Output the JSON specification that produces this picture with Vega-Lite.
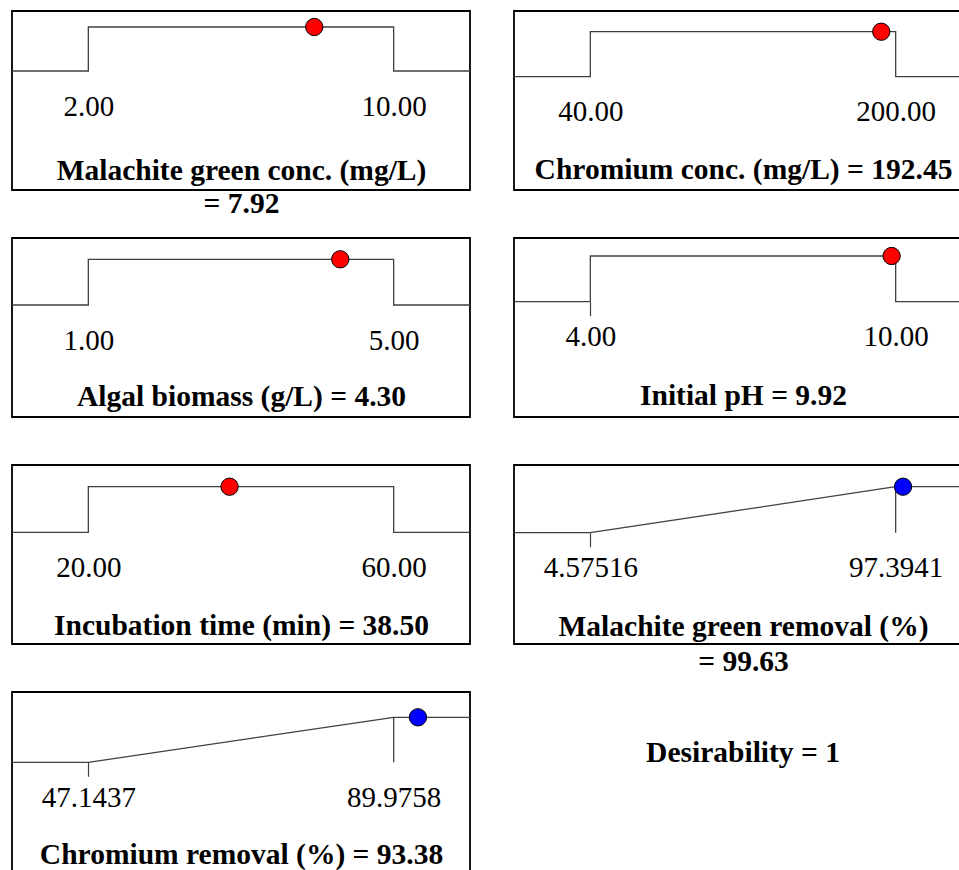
{
  "$schema": "https://vega.github.io/schema/vega-lite/v6.json",
  "padding": {"left": 8, "top": 10, "right": 0, "bottom": 0},
  "background": "white",
  "config": {
    "view": {"stroke": "black", "strokeWidth": 1.8},
    "axis": {
      "domain": false, "grid": false, "ticks": true, "tickSize": 14, "tickColor": "#404040", "tickWidth": 1.2,
      "labelFont": "Liberation Serif", "labelFontSize": 29, "labelColor": "black", "labelPadding": 7,
      "labelFlush": false, "labelOverlap": false, "labelBound": false,
      "titleFont": "Liberation Serif", "titleFontSize": 29.5, "titleFontWeight": "bold", "titleColor": "black", "titleLineHeight": 33
    }
  },
  "columns": 2,
  "spacing": {"row": 48, "column": 44},
  "bounds": "flush",
  "concat": [
    {
      "width": 458, "height": 179,
      "encoding": {
        "x": {"field": "x", "type": "quantitative", "scale": {"domain": [0, 12], "nice": false, "zero": false},
              "axis": {"values": [2, 10], "format": ".2f", "offset": -119, "tickOpacity": 0, "titlePadding": 35,
                       "title": ["Malachite green conc. (mg/L)", "= 7.92"]}},
        "y": {"field": "d", "type": "quantitative", "scale": {"domain": [-2.7045, 1.3636], "nice": false, "zero": false}, "axis": null}
      },
      "layer": [
        {"data": {"values": [{"i": 1, "x": 0, "d": 0}, {"i": 2, "x": 2, "d": 0}, {"i": 3, "x": 2, "d": 1}, {"i": 4, "x": 10, "d": 1}, {"i": 5, "x": 10, "d": 0}, {"i": 6, "x": 12, "d": 0}]},
         "mark": {"type": "line", "color": "#404040", "strokeWidth": 1.3},
         "encoding": {"order": {"field": "i"}}},
        {"data": {"values": [{"x": 7.92, "d": 1}]},
         "mark": {"type": "point", "shape": "circle", "filled": true, "size": 300, "fill": "#ff0000", "stroke": "black", "strokeWidth": 1, "opacity": 1}}
      ]
    },
    {
      "width": 458, "height": 179,
      "encoding": {
        "x": {"field": "x", "type": "quantitative", "scale": {"domain": [0, 240], "nice": false, "zero": false},
              "axis": {"values": [40, 200], "format": ".2f", "offset": -113.3, "tickOpacity": 0, "titlePadding": 29,
                       "title": "Chromium conc. (mg/L) = 192.45"}},
        "y": {"field": "d", "type": "quantitative", "scale": {"domain": [-2.5178, 1.46], "nice": false, "zero": false}, "axis": null}
      },
      "layer": [
        {"data": {"values": [{"i": 1, "x": 0, "d": 0}, {"i": 2, "x": 40, "d": 0}, {"i": 3, "x": 40, "d": 1}, {"i": 4, "x": 200, "d": 1}, {"i": 5, "x": 200, "d": 0}, {"i": 6, "x": 240, "d": 0}]},
         "mark": {"type": "line", "color": "#404040", "strokeWidth": 1.3},
         "encoding": {"order": {"field": "i"}}},
        {"data": {"values": [{"x": 192.45, "d": 1}]},
         "mark": {"type": "point", "shape": "circle", "filled": true, "size": 300, "fill": "#ff0000", "stroke": "black", "strokeWidth": 1, "opacity": 1}}
      ]
    },
    {
      "width": 458, "height": 179,
      "encoding": {
        "x": {"field": "x", "type": "quantitative", "scale": {"domain": [0, 6], "nice": false, "zero": false},
              "axis": {"values": [1, 5], "format": ".2f", "offset": -112, "tickOpacity": 0, "titlePadding": 27,
                       "title": "Algal biomass (g/L) = 4.30"}},
        "y": {"field": "d", "type": "quantitative", "scale": {"domain": [-2.4508, 1.4661], "nice": false, "zero": false}, "axis": null}
      },
      "layer": [
        {"data": {"values": [{"i": 1, "x": 0, "d": 0}, {"i": 2, "x": 1, "d": 0}, {"i": 3, "x": 1, "d": 1}, {"i": 4, "x": 5, "d": 1}, {"i": 5, "x": 5, "d": 0}, {"i": 6, "x": 6, "d": 0}]},
         "mark": {"type": "line", "color": "#404040", "strokeWidth": 1.3},
         "encoding": {"order": {"field": "i"}}},
        {"data": {"values": [{"x": 4.30, "d": 1}]},
         "mark": {"type": "point", "shape": "circle", "filled": true, "size": 300, "fill": "#ff0000", "stroke": "black", "strokeWidth": 1, "opacity": 1}}
      ]
    },
    {
      "width": 458, "height": 179,
      "encoding": {
        "x": {"field": "x", "type": "quantitative", "scale": {"domain": [2.5, 11.5], "nice": false, "zero": false},
              "axis": {"values": [4, 10], "format": ".2f", "offset": -115.3, "titlePadding": 30,
                       "tickOpacity": {"condition": {"test": "datum.value < 7", "value": 1}, "value": 0},
                       "title": "Initial pH = 9.92"}},
        "y": {"field": "d", "type": "quantitative", "scale": {"domain": [-2.523, 1.3939], "nice": false, "zero": false}, "axis": null}
      },
      "layer": [
        {"data": {"values": [{"i": 1, "x": 2.5, "d": 0}, {"i": 2, "x": 4, "d": 0}, {"i": 3, "x": 4, "d": 1}, {"i": 4, "x": 10, "d": 1}, {"i": 5, "x": 10, "d": 0}, {"i": 6, "x": 11.5, "d": 0}]},
         "mark": {"type": "line", "color": "#404040", "strokeWidth": 1.3},
         "encoding": {"order": {"field": "i"}}},
        {"data": {"values": [{"x": 9.92, "d": 1}]},
         "mark": {"type": "point", "shape": "circle", "filled": true, "size": 300, "fill": "#ff0000", "stroke": "black", "strokeWidth": 1, "opacity": 1}}
      ]
    },
    {
      "width": 458, "height": 179,
      "encoding": {
        "x": {"field": "x", "type": "quantitative", "scale": {"domain": [10, 70], "nice": false, "zero": false},
              "axis": {"values": [20, 60], "format": ".2f", "offset": -111.7, "tickOpacity": 0, "titlePadding": 28.7,
                       "title": "Incubation time (min) = 38.50"}},
        "y": {"field": "d", "type": "quantitative", "scale": {"domain": [-2.4496, 1.4759], "nice": false, "zero": false}, "axis": null}
      },
      "layer": [
        {"data": {"values": [{"i": 1, "x": 10, "d": 0}, {"i": 2, "x": 20, "d": 0}, {"i": 3, "x": 20, "d": 1}, {"i": 4, "x": 60, "d": 1}, {"i": 5, "x": 60, "d": 0}, {"i": 6, "x": 70, "d": 0}]},
         "mark": {"type": "line", "color": "#404040", "strokeWidth": 1.3},
         "encoding": {"order": {"field": "i"}}},
        {"data": {"values": [{"x": 38.50, "d": 1}]},
         "mark": {"type": "point", "shape": "circle", "filled": true, "size": 300, "fill": "#ff0000", "stroke": "black", "strokeWidth": 1, "opacity": 1}}
      ]
    },
    {
      "width": 458, "height": 179,
      "encoding": {
        "x": {"field": "x", "type": "quantitative", "scale": {"domain": [-18.6295, 120.5988], "nice": false, "zero": false},
              "axis": {"values": [4.57516, 97.3941], "format": ".6", "offset": -111.3, "titlePadding": 29.3, "titleLineHeight": 35,
                       "tickOpacity": {"condition": {"test": "datum.value < 50", "value": 1}, "value": 0},
                       "title": ["Malachite green removal (%)", "= 99.63"]}},
        "y": {"field": "d", "type": "quantitative", "scale": {"domain": [-2.4196, 1.4717], "nice": false, "zero": false}, "axis": null}
      },
      "layer": [
        {"data": {"values": [{"i": 1, "x": -18.6295, "d": 0}, {"i": 2, "x": 4.57516, "d": 0}, {"i": 3, "x": 97.3941, "d": 1}, {"i": 4, "x": 120.5988, "d": 1}]},
         "mark": {"type": "line", "color": "#404040", "strokeWidth": 1.3},
         "encoding": {"order": {"field": "i"}}},
        {"data": {"values": [{"x": 97.3941, "d": 0, "d2": 1}]},
         "mark": {"type": "rule", "color": "#404040", "strokeWidth": 1.3},
         "encoding": {"y2": {"field": "d2"}}},
        {"data": {"values": [{"x": 99.63, "d": 1}]},
         "mark": {"type": "point", "shape": "circle", "filled": true, "size": 300, "fill": "#0000ff", "stroke": "black", "strokeWidth": 1, "opacity": 1}}
      ]
    },
    {
      "width": 458, "height": 179,
      "encoding": {
        "x": {"field": "x", "type": "quantitative", "scale": {"domain": [36.4357, 100.6838], "nice": false, "zero": false},
              "axis": {"values": [47.1437, 89.9758], "format": ".6", "offset": -108.7, "titlePadding": 28.5,
                       "tickOpacity": {"condition": {"test": "datum.value < 60", "value": 1}, "value": 0},
                       "title": "Chromium removal (%) = 93.38"}},
        "y": {"field": "d", "type": "quantitative", "scale": {"domain": [-2.4156, 1.5622], "nice": false, "zero": false}, "axis": null}
      },
      "layer": [
        {"data": {"values": [{"i": 1, "x": 36.4357, "d": 0}, {"i": 2, "x": 47.1437, "d": 0}, {"i": 3, "x": 89.9758, "d": 1}, {"i": 4, "x": 100.6838, "d": 1}]},
         "mark": {"type": "line", "color": "#404040", "strokeWidth": 1.3},
         "encoding": {"order": {"field": "i"}}},
        {"data": {"values": [{"x": 89.9758, "d": 0, "d2": 1}]},
         "mark": {"type": "rule", "color": "#404040", "strokeWidth": 1.3},
         "encoding": {"y2": {"field": "d2"}}},
        {"data": {"values": [{"x": 93.38, "d": 1}]},
         "mark": {"type": "point", "shape": "circle", "filled": true, "size": 300, "fill": "#0000ff", "stroke": "black", "strokeWidth": 1, "opacity": 1}}
      ]
    },
    {
      "width": 458, "height": 121,
      "view": {"stroke": null},
      "data": {"values": [{"t": "Desirability = 1"}]},
      "mark": {"type": "text", "font": "Liberation Serif", "fontSize": 29.5, "fontWeight": "bold", "baseline": "middle", "align": "center", "color": "black"},
      "encoding": {"text": {"field": "t", "type": "nominal"}}
    }
  ]
}
